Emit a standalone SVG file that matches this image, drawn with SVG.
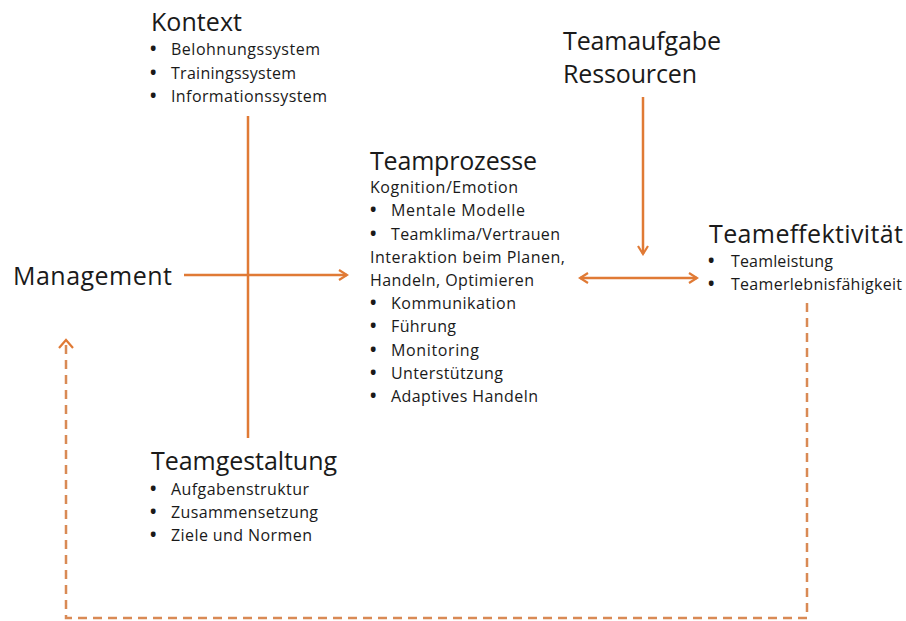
<svg xmlns="http://www.w3.org/2000/svg" width="906" height="621" viewBox="0 0 906 621">
<defs>
<style>
text{font-family:"Open Sans","Noto Sans","Liberation Sans",sans-serif;fill:#1a1a1a}
.h{font-size:25px}
.s{font-size:16px}
.b{font-size:17px;font-weight:bold}
.c{stroke:#E07A35;stroke-width:2.5;fill:none}
.d{stroke:#D98A55;stroke-width:2.5;fill:none;stroke-dasharray:9 6}
</style>
<marker id="ah" viewBox="0 0 12 12" refX="10" refY="6" markerWidth="12" markerHeight="12" markerUnits="userSpaceOnUse" orient="auto-start-reverse">
<path d="M2,1 L10,6 L2,11" fill="none" stroke="#E07A35" stroke-width="2.2"/>
</marker>
</defs>
<rect width="906" height="621" fill="#fff"/>
<g id="connectors">
<line class="c" x1="248" y1="116" x2="248" y2="438"/>
<line class="c" x1="184" y1="275" x2="347" y2="275" marker-end="url(#ah)"/>
<line class="c" x1="643" y1="97" x2="643" y2="254" marker-end="url(#ah)"/>
<line class="c" x1="580" y1="278" x2="697" y2="278" marker-start="url(#ah)" marker-end="url(#ah)"/>
<path class="d" d="M807,303 V618 H66 V341"/>
<path d="M59,348 L66,340 L73,348" fill="none" stroke="#E07A35" stroke-width="2.2"/>
</g>
<g id="kontext">
<text class="h" x="151" y="31" textLength="91">Kontext</text>
<text class="b" x="150" y="55">•</text><text class="s" x="171" y="55" textLength="149">Belohnungssystem</text>
<text class="b" x="150" y="79">•</text><text class="s" x="171" y="79" textLength="125">Trainingssystem</text>
<text class="b" x="150" y="102">•</text><text class="s" x="171" y="102" textLength="156">Informationssystem</text>
</g>
<g id="teamaufgabe">
<text class="h" x="563" y="50" textLength="158">Teamaufgabe</text>
<text class="h" x="563" y="83" textLength="134">Ressourcen</text>
</g>
<g id="management">
<text class="h" x="13" y="285" textLength="159">Management</text>
</g>
<g id="teamprozesse">
<text class="h" x="370" y="170" textLength="167">Teamprozesse</text>
<text class="s" x="370" y="193" textLength="148">Kognition/Emotion</text>
<text class="b" x="370" y="216">•</text><text class="s" x="391" y="216" textLength="134">Mentale Modelle</text>
<text class="b" x="370" y="240">•</text><text class="s" x="391" y="240" textLength="169">Teamklima/Vertrauen</text>
<text class="s" x="370" y="263" textLength="195">Interaktion beim Planen,</text>
<text class="s" x="370" y="286" textLength="164">Handeln, Optimieren</text>
<text class="b" x="370" y="309">•</text><text class="s" x="391" y="309" textLength="125">Kommunikation</text>
<text class="b" x="370" y="332">•</text><text class="s" x="391" y="332" textLength="65">Führung</text>
<text class="b" x="370" y="356">•</text><text class="s" x="391" y="356" textLength="88">Monitoring</text>
<text class="b" x="370" y="379">•</text><text class="s" x="391" y="379" textLength="112">Unterstützung</text>
<text class="b" x="370" y="402">•</text><text class="s" x="391" y="402" textLength="147">Adaptives Handeln</text>
</g>
<g id="teameffektivitaet">
<text class="h" x="709" y="243" textLength="194">Teameffektivität</text>
<text class="b" x="708" y="267">•</text><text class="s" x="731" y="267" textLength="102">Teamleistung</text>
<text class="b" x="708" y="290">•</text><text class="s" x="731" y="290" textLength="171">Teamerlebnisfähigkeit</text>
</g>
<g id="teamgestaltung">
<text class="h" x="151" y="470" textLength="186">Teamgestaltung</text>
<text class="b" x="150" y="495">•</text><text class="s" x="171" y="495" textLength="138">Aufgabenstruktur</text>
<text class="b" x="150" y="518">•</text><text class="s" x="171" y="518" textLength="147">Zusammensetzung</text>
<text class="b" x="150" y="541">•</text><text class="s" x="171" y="541" textLength="141">Ziele und Normen</text>
</g>
</svg>
